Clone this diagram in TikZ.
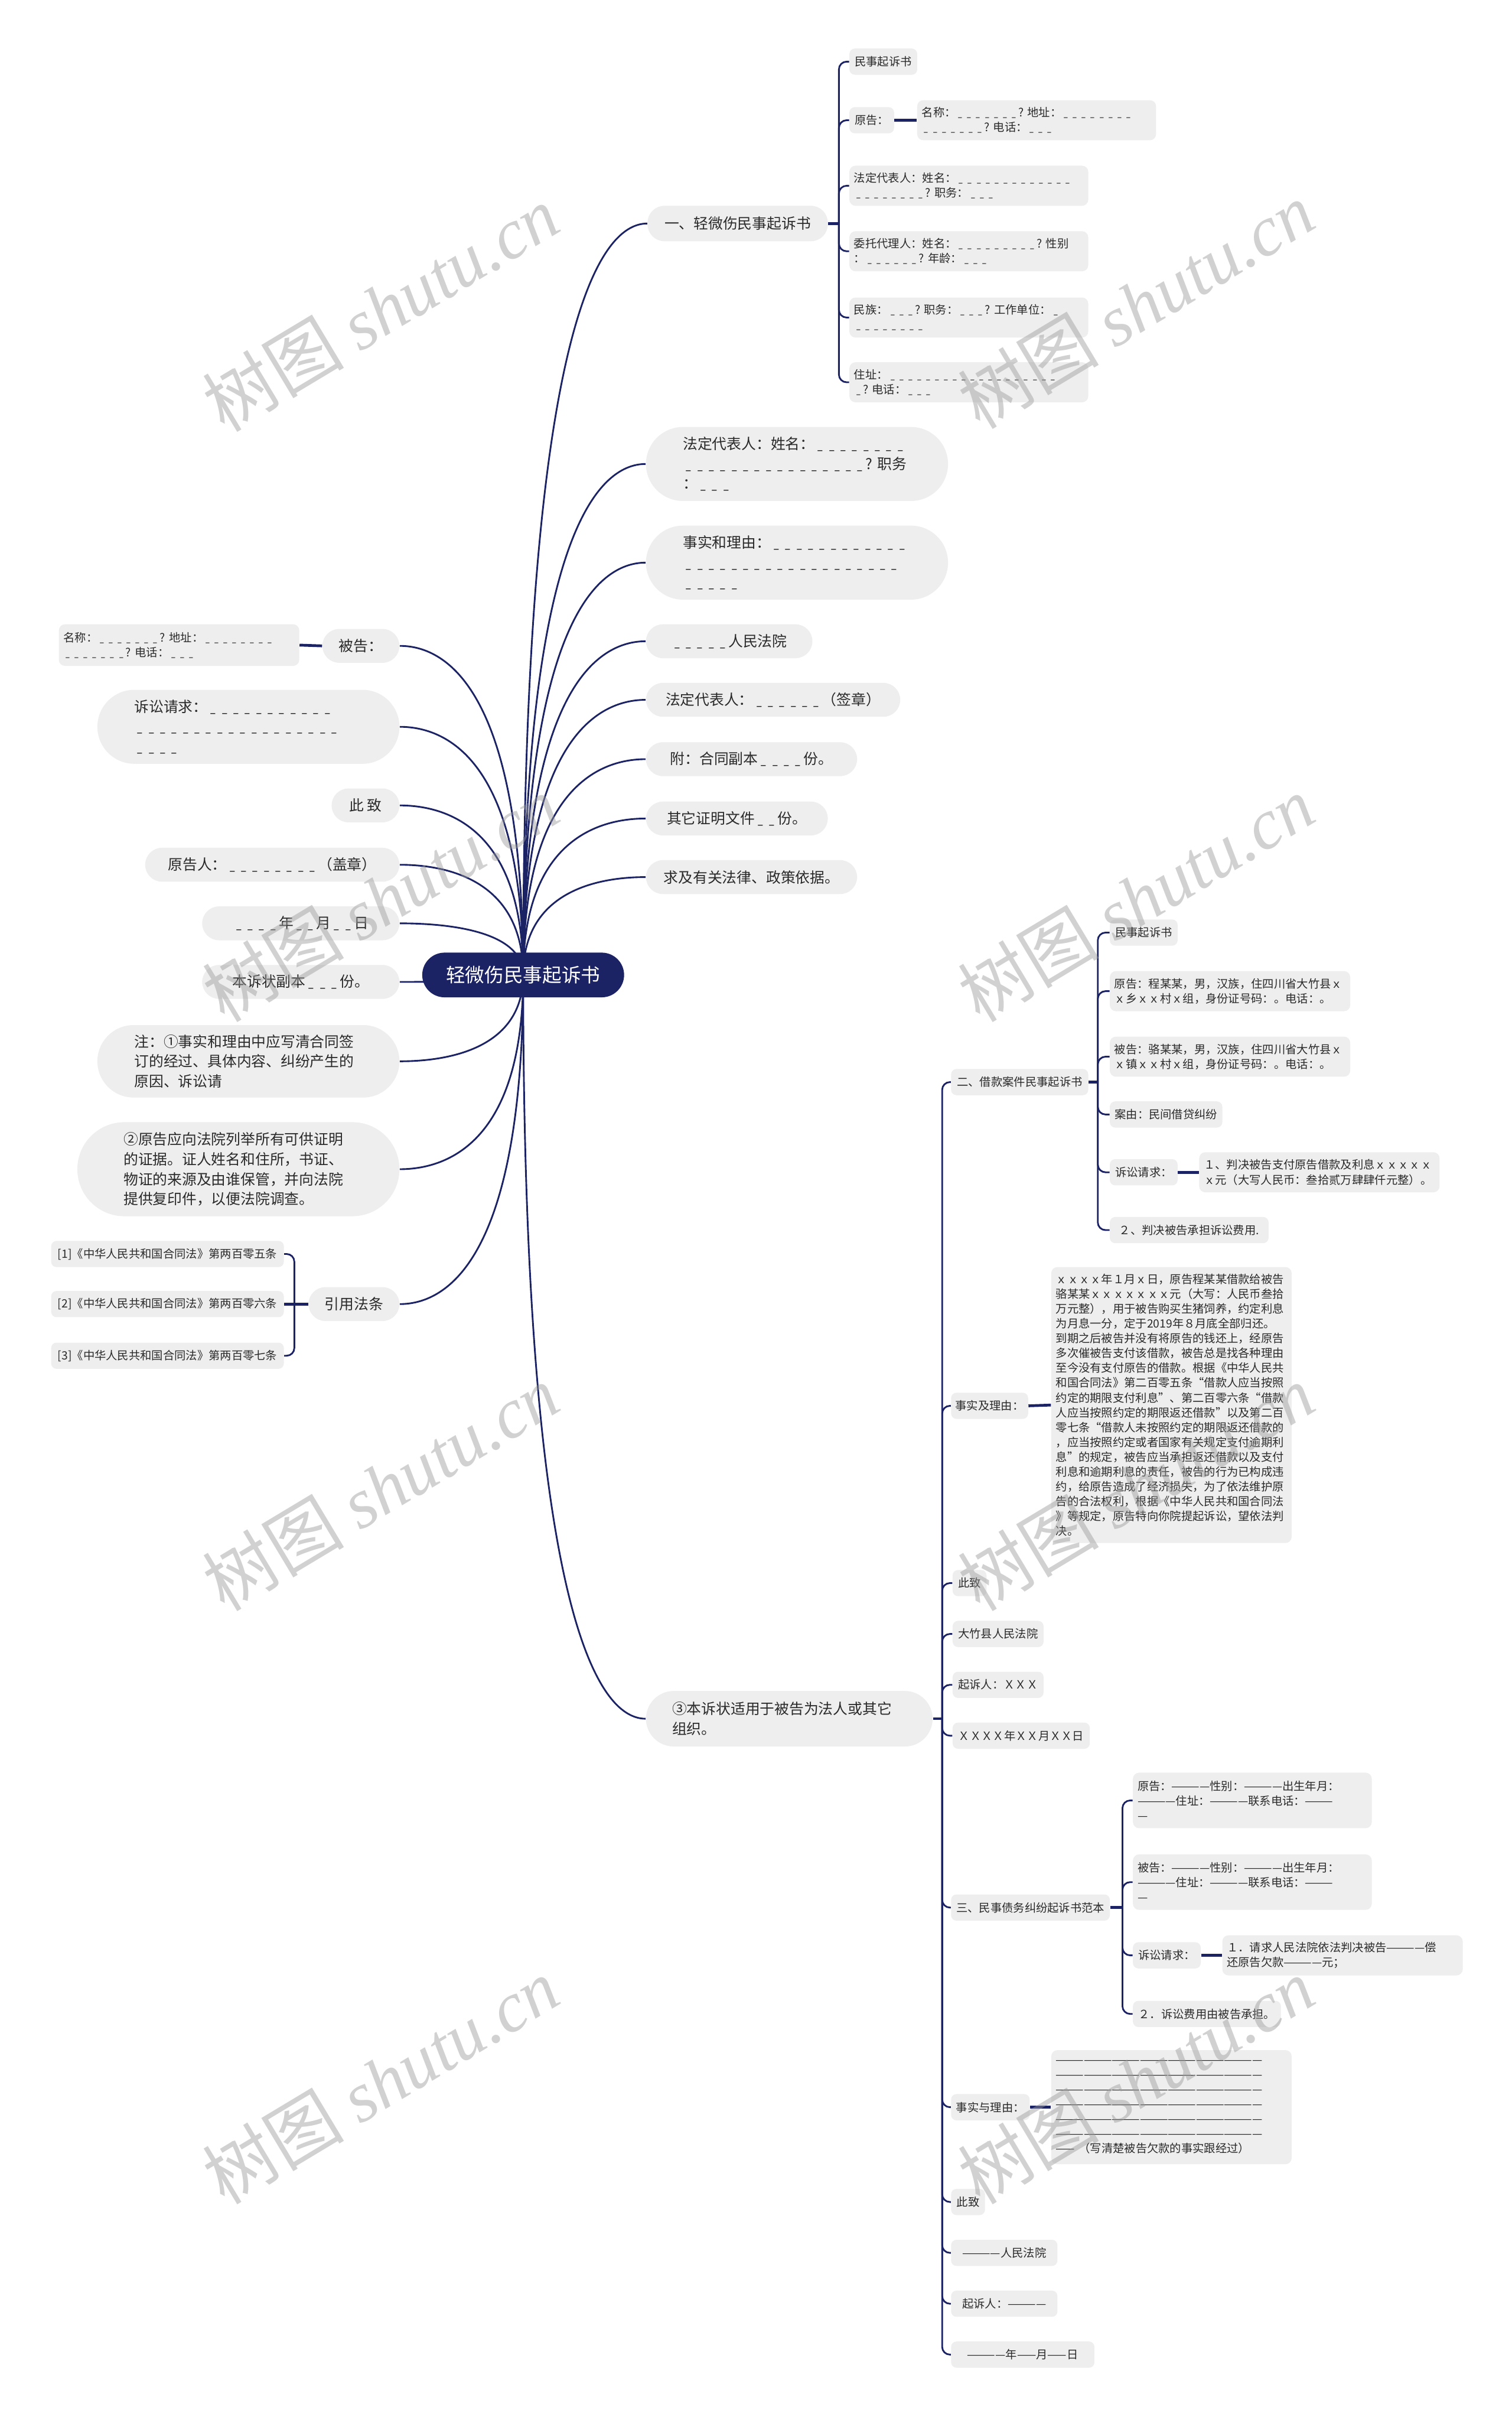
\documentclass[tikz,border=0pt]{standalone}
\usepackage{fontspec}
\usepackage{graphicx}
\setmainfont{Noto Sans CJK SC}
\newfontfamily\wmcjk{Noto Sans CJK SC}
\newfontfamily\wmlat{Liberation Serif}
\usetikzlibrary{calc}
\definecolor{navy}{HTML}{1B2364}
\definecolor{nodegray}{HTML}{EEEEEE}
\definecolor{txt}{HTML}{2A2A2A}
\definecolor{wmc}{HTML}{9A9A9A}
\pgfdeclarelayer{back}
\pgfdeclarelayer{bg}
\pgfsetlayers{back,bg,main}
\newcommand\uu{\makebox[0.78em]{\scalebox{0.62}[1]{\_}}}
\ExplSyntaxOn
\NewDocumentCommand\Us{m}{\prg_replicate:nn{#1}{\uu}}
\NewDocumentCommand\Ds{m}{\prg_replicate:nn{#1}{—}}
\ExplSyntaxOff
\newcommand\rootR[1]{\draw[link] (root.center) .. controls ($(root.center|-#1.west)!0.15!(root.center)$) and ($(#1.west)!0.4!(root.center|-#1.west)$) .. (#1.west);}
\newcommand\rootL[1]{\draw[link] (root.center) .. controls ($(root.center|-#1.east)!0.15!(root.center)$) and ($(#1.east)!0.4!(root.center|-#1.east)$) .. (#1.east);}
\newcommand\elbR[3]{\draw[link,rounded corners=5pt] ($(#1.east)+(#3,0)$) |- (#2.west);}
\newcommand\stubR[2]{\draw[stub] (#1.east) -- ++(#2,0);}
\tikzset{
  base/.style={fill=nodegray, text=txt, anchor=west, inner ysep=0pt},
  big/.style={font=\fontsize{9.5}{12.9}\selectfont},
  sml/.style={font=\fontsize{7.4}{9.6}\selectfont},
  one/.style={base, big, inner xsep=0pt, minimum height=22pt, rounded corners=11pt, minimum width=#1},
  multi/.style={base, big, align=left, inner xsep=#1},
  sone/.style={base, sml, inner xsep=0pt, minimum height=17pt, rounded corners=3.5pt, minimum width=#1},
  smulti/.style={base, sml, align=left, inner xsep=3pt, text width=150pt, rounded corners=4pt},
  link/.style={draw=navy, line width=1.1pt},
  stub/.style={draw=navy, line width=1.8pt},
  wmark/.style={text=wmc, text opacity=0.45, rotate=31, font=\fontsize{46}{46}\selectfont, inner sep=0pt},
  rootbox/.style={fill=navy, text=white, font=\fontsize{12.5}{15}\selectfont, minimum width=131pt, minimum height=29pt, rounded corners=14.5pt, inner sep=0pt}
}
\begin{document}
\begin{tikzpicture}[x=1pt,y=-1pt]
\begin{pgfonlayer}{back}
\fill[white] (0,0) rectangle (981,1568);
\end{pgfonlayer}
\useasboundingbox (0,0) rectangle (981,1568);

% root
\node[rootbox] (root) at (339.5,632.5) {轻微伤民事起诉书};

% right level 1
\node[one=117pt, minimum height=23pt] (r1) at (420,145) {一、轻微伤民事起诉书};
\node[multi=24pt, text width=148pt, minimum height=48pt, rounded corners=24pt] (r2) at (419,301) {法定代表人：姓名：\Us{8}\\\Us{16}?~职务\\：\Us{3}};
\node[multi=24pt, text width=148pt, minimum height=48pt, rounded corners=24pt] (r3) at (419,365) {事实和理由：\Us{12}\\\Us{19}\\\Us{5}};
\node[one=108pt] (r4) at (419,416) {\Us{5}人民法院};
\node[one=165pt] (r5) at (419,454) {法定代表人：\Us{6}（签章）};
\node[one=137pt] (r6) at (419,492.5) {附：合同副本\Us{4}份。};
\node[one=118pt] (r7) at (419,531) {其它证明文件\Us{2}份。};
\node[one=137pt] (r8) at (419,569) {求及有关法律、政策依据。};
\node[multi=17pt, text width=152pt, minimum height=36pt, rounded corners=18pt] (r9) at (419,1115) {③本诉状适用于被告为法人或其它\\组织。};

% left level 1
\node[one=50pt] (l1) at (209,419) {被告：};
\node[smulti, minimum height=27pt] (l1c) at (38,418.5) {名称：\Us{7}?~地址：\Us{8}\\\Us{7}?~电话：\Us{3}};
\node[multi=24pt, text width=148pt, minimum height=48pt, rounded corners=24pt] (l2) at (63,471.5) {诉讼请求：\Us{11}\\\Us{18}\\\Us{4}};
\node[one=44pt] (l3) at (215,522.5) {此\ 致};
\node[one=165pt] (l4) at (94,561) {原告人：\Us{8}（盖章）};
\node[one=128pt] (l5) at (131,599) {\Us{4}年\Us{2}月\Us{2}日};
\node[one=128pt] (l6) at (131,637) {本诉状副本\Us{3}份。};
\node[multi=24pt, text width=148pt, minimum height=47pt, rounded corners=23.5pt] (l7) at (63,688.5) {注：①事实和理由中应写清合同签\\订的经过、具体内容、纠纷产生的\\原因、诉讼请};
\node[multi=30pt, text width=149pt, minimum height=61pt, rounded corners=30.5pt] (l8) at (50,758.5) {②原告应向法院列举所有可供证明\\的证据。证人姓名和住所，书证、\\物证的来源及由谁保管，并向法院\\提供复印件，以便法院调查。};
\node[one=59pt] (l9) at (200,846) {引用法条};
\node[sone=151pt] (l9a) at (33,813.5) {[1]《中华人民共和国合同法》第两百零五条};
\node[sone=151pt] (l9b) at (33,846) {[2]《中华人民共和国合同法》第两百零六条};
\node[sone=151pt] (l9c) at (33,879.5) {[3]《中华人民共和国合同法》第两百零七条};

% subtree of r1
\node[sone=44pt] (a1) at (551,40) {民事起诉书};
\node[sone=29pt] (a2) at (551,78) {原告：};
\node[smulti, text width=149pt, minimum height=26pt] (a2c) at (595,78) {名称：\Us{7}?~地址：\Us{8}\\\Us{7}?~电话：\Us{3}};
\node[smulti, text width=149pt, minimum height=26pt] (a3) at (551,120.5) {法定代表人：姓名：\Us{13}\\\Us{8}?~职务：\Us{3}};
\node[smulti, text width=149pt, minimum height=26pt] (a4) at (551,163) {委托代理人：姓名：\Us{9}?~性别\\：\Us{6}?~年龄：\Us{3}};
\node[smulti, text width=149pt, minimum height=26pt] (a5) at (551,206) {民族：\Us{3}?~职务：\Us{3}?~工作单位：\Us{1}\\\Us{8}};
\node[smulti, text width=149pt, minimum height=26pt] (a6) at (551,248) {住址：\Us{19}\\\Us{1}?~电话：\Us{3}};

% subtree of r9
\node[sone=89pt] (b0) at (617,702) {二、借款案件民事起诉书};
\node[sone=44pt] (b1) at (720,605) {民事起诉书};
\node[smulti, minimum height=26pt] (b2) at (720,643) {原告：程某某，男，汉族，住四川省大竹县ｘ\\ｘ乡ｘｘ村ｘ组，身份证号码：。电话：。};
\node[smulti, minimum height=26pt] (b3) at (720,685.5) {被告：骆某某，男，汉族，住四川省大竹县ｘ\\ｘ镇ｘｘ村ｘ组，身份证号码：。电话：。};
\node[sone=73pt] (b4) at (720,723) {案由：民间借贷纠纷};
\node[sone=44pt] (b5) at (720,760.5) {诉讼请求：};
\node[smulti, minimum height=26pt] (b5c) at (778,760.5) {１、判决被告支付原告借款及利息ｘｘｘｘｘ\\ｘ元（大写人民币：叁拾贰万肆肆仟元整）。};
\node[sone=103pt] (b6) at (720,798) {２、判决被告承担诉讼费用.};

\node[sone=50pt] (c1) at (617,912) {事实及理由：};
\node[smulti, minimum height=179pt] (c1c) at (682,911.5) {ｘｘｘｘ年１月ｘ日，原告程某某借款给被告\\骆某某ｘｘｘｘｘｘｘ元（大写：人民币叁拾\\万元整），用于被告购买生猪饲养，约定利息\\为月息一分，定于2019年８月底全部归还。\\到期之后被告并没有将原告的钱还上，经原告\\多次催被告支付该借款，被告总是找各种理由\\至今没有支付原告的借款。根据《中华人民共\\和国合同法》第二百零五条“借款人应当按照\\约定的期限支付利息”、第二百零六条“借款\\人应当按照约定的期限返还借款”以及第二百\\零七条“借款人未按照约定的期限返还借款的\\，应当按照约定或者国家有关规定支付逾期利\\息”的规定，被告应当承担返还借款以及支付\\利息和逾期利息的责任，被告的行为已构成违\\约，给原告造成了经济损失，为了依法维护原\\告的合法权利，根据《中华人民共和国合同法\\》等规定，原告特向你院提起诉讼，望依法判\\决。};
\node[sone=22pt] (c2) at (618,1027) {此致};
\node[sone=59pt] (c3) at (618,1060) {大竹县人民法院};
\node[sone=59pt] (c4) at (618,1093) {起诉人：ＸＸＸ};
\node[sone=89pt] (c5) at (618,1126) {ＸＸＸＸ年ＸＸ月ＸＸ日};
\node[sone=103pt] (c6) at (617,1237.5) {三、民事债务纠纷起诉书范本};
\node[sone=51pt] (c7) at (617,1367) {事实与理由：};
\node[smulti, minimum height=74pt] (c7c) at (682,1367) {\Ds{22}\\\Ds{22}\\\Ds{22}\\\Ds{22}\\\Ds{22}\\\Ds{22}\\\Ds{2}~（写清楚被告欠款的事实跟经过）};
\node[sone=22pt] (c8) at (617,1428.5) {此致};
\node[sone=69pt] (c9) at (617,1461.5) {\Ds{4}人民法院};
\node[sone=69pt] (c10) at (617,1494.5) {起诉人：\Ds{4}};
\node[sone=93pt] (c11) at (617,1527.5) {\Ds{4}年\Ds{2}月\Ds{2}日};

% subtree of c6
\node[smulti, text width=149pt, minimum height=36pt] (d1) at (735,1168) {原告：\Ds{4}性别：\Ds{4}出生年月：\\\Ds{4}住址：\Ds{4}联系电话：\Ds{3}\\\Ds{1}};
\node[smulti, text width=149pt, minimum height=36pt] (d2) at (735,1221) {被告：\Ds{4}性别：\Ds{4}出生年月：\\\Ds{4}住址：\Ds{4}联系电话：\Ds{3}\\\Ds{1}};
\node[sone=44pt] (d3) at (735,1268.5) {诉讼请求：};
\node[smulti, minimum height=26pt] (d3c) at (793,1268.5) {１．请求人民法院依法判决被告\Ds{4}偿\\还原告欠款\Ds{4}元；};
\node[sone=96pt] (d4) at (735,1306.5) {２．诉讼费用由被告承担。};

% connectors
\begin{pgfonlayer}{bg}
\rootR{r1}\rootR{r2}\rootR{r3}\rootR{r4}\rootR{r5}\rootR{r6}\rootR{r7}\rootR{r8}\rootR{r9}
\rootL{l1}\rootL{l2}\rootL{l3}\rootL{l4}\rootL{l5}\rootL{l6}\rootL{l7}\rootL{l8}\rootL{l9}
\stubR{r1}{7}
\elbR{r1}{a1}{7}\elbR{r1}{a2}{7}\elbR{r1}{a3}{7}\elbR{r1}{a4}{7}\elbR{r1}{a5}{7}\elbR{r1}{a6}{7}
\draw[stub] (a2.east) -- (a2c.west);
\draw[stub] (l1.west) -- (l1c.east);
\draw[stub] (l9.west) -- (l9b.east);
\draw[link,rounded corners=5pt] ($(l9.west)+(-9,0)$) |- (l9a.east);
\draw[link,rounded corners=5pt] ($(l9.west)+(-9,0)$) |- (l9c.east);
\stubR{r9}{6}
\elbR{r9}{b0}{6}\elbR{r9}{c1}{6}\elbR{r9}{c2}{6}\elbR{r9}{c3}{6}\elbR{r9}{c4}{6}\elbR{r9}{c5}{6}
\elbR{r9}{c6}{6}\elbR{r9}{c7}{6}\elbR{r9}{c8}{6}\elbR{r9}{c9}{6}\elbR{r9}{c10}{6}\elbR{r9}{c11}{6}
\stubR{b0}{6}
\elbR{b0}{b1}{6}\elbR{b0}{b2}{6}\elbR{b0}{b3}{6}\elbR{b0}{b4}{6}\elbR{b0}{b5}{6}\elbR{b0}{b6}{6}
\draw[stub] (b5.east) -- (b5c.west);
\draw[stub] (c1.east) -- (c1c.west);
\draw[stub] (c7.east) -- (c7c.west);
\stubR{c6}{8}
\elbR{c6}{d1}{8}\elbR{c6}{d2}{8}\elbR{c6}{d3}{8}\elbR{c6}{d4}{8}
\draw[stub] (d3.east) -- (d3c.west);
\end{pgfonlayer}

% watermarks
\node[wmark] (wm1) at (247,200) {{\wmcjk 树图}~{\wmlat\itshape shutu.cn}};
\node[wmark] (wm2) at (737,198) {{\wmcjk 树图}~{\wmlat\itshape shutu.cn}};
\node[wmark] (wm3) at (247,583) {{\wmcjk 树图}~{\wmlat\itshape shutu.cn}};
\node[wmark] (wm4) at (737,583) {{\wmcjk 树图}~{\wmlat\itshape shutu.cn}};
\node[wmark] (wm5) at (247,965) {{\wmcjk 树图}~{\wmlat\itshape shutu.cn}};
\node[wmark] (wm6) at (737,965) {{\wmcjk 树图}~{\wmlat\itshape shutu.cn}};
\node[wmark] (wm7) at (247,1350) {{\wmcjk 树图}~{\wmlat\itshape shutu.cn}};
\node[wmark] (wm8) at (737,1350) {{\wmcjk 树图}~{\wmlat\itshape shutu.cn}};
\end{tikzpicture}
\end{document}
